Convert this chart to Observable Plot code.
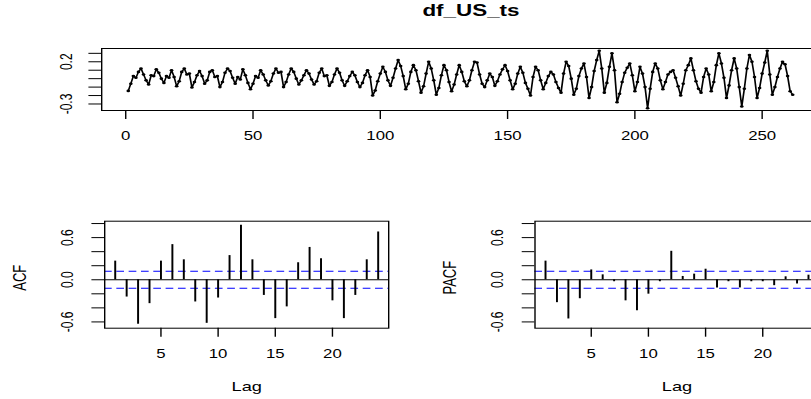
<!DOCTYPE html>
<html>
<head>
<meta charset="utf-8">
<script src="https://cdn.jsdelivr.net/npm/d3@7"></script>
<script src="https://cdn.jsdelivr.net/npm/@observablehq/plot@0.6"></script>
<style>
  html, body { margin: 0; padding: 0; background: #fff; overflow: hidden; width: 811px; height: 399px; }
  #stage { position: absolute; left: 0; top: 0; height: 399px; transform-origin: 0 0; font-family: "Liberation Sans", Arial, sans-serif; }
  #stage svg { position: absolute; overflow: visible; max-width: none !important; }
  #title { position: absolute; top: 2px; width: 200px; text-align: center; font: bold 16px "Liberation Sans", Arial, sans-serif; color: #000; }
</style>
</head>
<body>
<div id="stage"><div id="title"></div></div>
<script>
// ---------- data ----------
const seriesTitle = "df_US_ts";
const seriesValues = [
  -0.145, -0.06, 0.03, 0.01, 0.08, 0.12, 0.05, -0.02, -0.07, 0.04,
  0.03, 0.11, 0.07, 0.00, -0.05, 0.03, 0.01, 0.10, 0.02, -0.09,
  -0.03, 0.08, 0.12, 0.05, 0.06, -0.105, -0.04, 0.04, 0.09, 0.03,
  -0.06, -0.02, 0.08, 0.10, 0.02, 0.03, -0.10, -0.04, 0.07, 0.12,
  0.09, 0.01, -0.06, 0.02, -0.01, 0.11, 0.04, -0.05, -0.125, -0.06,
  0.03, 0.01, 0.10, 0.05, -0.02, -0.08, -0.03, 0.06, 0.12, 0.07,
  0.08, -0.10, -0.04, 0.05, 0.12, 0.08, 0.00, -0.07, -0.02, 0.04,
  0.10, 0.06, -0.01, -0.07, -0.03, 0.07, 0.12, 0.03, 0.04, -0.085,
  -0.04, 0.05, 0.12, 0.07, -0.02, -0.085, -0.03, 0.03, 0.08, 0.04,
  -0.04, -0.10, -0.05, 0.04, 0.10, 0.02, -0.20, -0.14, -0.03, 0.06,
  0.14, 0.08, -0.02, -0.085, 0.01, 0.12, 0.22, 0.15, 0.03, -0.125,
  -0.06, 0.08, 0.16, 0.10, -0.03, -0.166, -0.09, 0.06, 0.20, 0.12,
  -0.02, -0.19, -0.11, 0.04, 0.16, 0.10, -0.04, -0.15, -0.07, 0.05,
  0.16, 0.08, -0.03, -0.09, -0.02, 0.10, 0.20, 0.19, 0.05, -0.06,
  -0.10, -0.02, 0.06, 0.02, -0.085, -0.03, 0.05, 0.11, 0.16, 0.09,
  -0.02, -0.125, -0.06, 0.06, 0.14, 0.07, -0.05, -0.12, -0.20, 0.02,
  0.14, 0.10, -0.02, -0.125, -0.05, 0.03, 0.08, 0.05, -0.04, -0.11,
  -0.166, 0.06, 0.20, 0.15, 0.00, -0.19, -0.12, 0.03, 0.12, 0.18,
  0.02, -0.23, -0.10, 0.09, 0.22, 0.33, 0.12, -0.166, -0.05, 0.14,
  0.30, 0.10, -0.28, -0.18, -0.04, 0.07, 0.13, 0.18, 0.04, -0.15,
  -0.04, 0.14, 0.06, -0.10, -0.35, -0.12, 0.08, 0.18, 0.12, -0.02,
  -0.125, -0.04, 0.05, 0.08, 0.10, 0.01, -0.09, -0.20, -0.06, 0.10,
  0.16, 0.24, 0.10, -0.03, -0.12, -0.166, 0.02, 0.12, 0.05, -0.15,
  -0.04, 0.16, 0.30, 0.18, 0.01, -0.23, -0.08, 0.10, 0.24, 0.12,
  -0.10, -0.33, -0.12, 0.12, 0.28, 0.20, 0.02, -0.23, -0.11, 0.06,
  0.19, 0.33, 0.05, -0.19, -0.10, 0.02, 0.12, 0.20, 0.17, 0.03,
  -0.15, -0.19
];
const lags = [1,2,3,4,5,6,7,8,9,10,11,12,13,14,15,16,17,18,19,20,21,22,23,24];
const acfValues = [0.265, -0.246, -0.633, -0.34, 0.265, 0.50, 0.284, -0.316, -0.62, -0.26, 0.344, 0.777,
                   0.284, -0.223, -0.553, -0.386, 0.242, 0.46, 0.30, -0.30, -0.553, -0.223, 0.284, 0.68];
const pacfValues = [0.265, -0.326, -0.558, -0.27, 0.14, 0.07, -0.028, -0.30, -0.44, -0.205, -0.028, 0.405,
                    0.047, 0.08, 0.15, -0.116, -0.028, -0.116, -0.028, -0.028, -0.084, 0.042, -0.06, 0.065];
const topXTicks = [0, 50, 100, 150, 200, 250];
const topYTicks = [-0.3, -0.2, -0.1, 0, 0.1, 0.2, 0.3];
const topYLabels = [0.2, -0.3];
const lagTicks = [5, 10, 15, 20];
const corrYTicks = [-0.6, -0.4, -0.2, 0, 0.2, 0.4, 0.6, 0.8];
const corrYLabels = [-0.6, 0, 0.6];
const xLabel = "Lag";

// ---------- layout (reference is stretched horizontally) ----------
const S = 1.4;
const fx = v => v / S;
const stage = document.getElementById("stage");
stage.style.width = fx(811) + "px";
stage.style.transform = `scaleX(${S})`;
const title = document.getElementById("title");
title.textContent = seriesTitle;
title.style.left = (fx(471) - 100) + "px";

const fmt = d => d.toFixed(1);
const baseStyle = { background: "transparent", overflow: "visible", color: "#000",
  fontFamily: "'Liberation Sans', Arial, sans-serif", fontSize: "12px", maxWidth: "none" };

function place(svg, left, top, w, h) {
  svg.style.left = left + "px";
  svg.style.top = top + "px";
  svg.style.maxWidth = "none";
  svg.style.width = w + "px";
  svg.style.height = h + "px";
  stage.appendChild(svg);
}

// ---------- top: time series ----------
const ts = seriesValues.map((v, i) => ({ t: i + 1, v }));
const [ymin, ymax] = d3.extent(seriesValues);
const ypad = (ymax - ymin) * 0.04;
const xpad = (ts.length - 1) * 0.04;
const topW = 830;
const topChart = Plot.plot({
  width: fx(topW), height: 150,
  marginLeft: fx(101), marginRight: fx(topW - 818.6), marginTop: 48, marginBottom: 40,
  x: { domain: [1 - xpad, ts.length + xpad] },
  y: { domain: [ymin - ypad, ymax + ypad] },
  style: baseStyle,
  marks: [
    Plot.axisX({ ticks: topXTicks, tickSize: 9, tickPadding: 12, tickFormat: d => String(d), label: null }),
    Plot.axisY({ ticks: topYTicks, tickSize: 9, tickFormat: () => "", label: null }),
    Plot.text(topYLabels, { y: d => d, text: fmt, frameAnchor: "left", textAnchor: "middle", lineAnchor: "middle", dx: fx(-35), rotate: -90, fontSize: 12 }),
    Plot.line(ts, { x: "t", y: "v", stroke: "#000", strokeWidth: 1.2 }),
    Plot.dot(ts, { x: "t", y: "v", r: 1.3, fill: "#000", stroke: "none" }),
    Plot.frame({ stroke: "#000", strokeWidth: 1 })
  ]
});
place(topChart, 0, 0, fx(topW), 150);

// ---------- bottom: ACF / PACF ----------
const n = seriesValues.length;
const clim = 1.96 / Math.sqrt(n);
const allCorr = acfValues.concat(pacfValues, [clim, -clim]);
const [cmin, cmax] = d3.extent(allCorr);
const cpad = (cmax - cmin) * 0.04;
const corrDomain = [cmin - cpad, cmax + cpad];
const lpad = (lags.length - 1) * 0.04;

function corrChart(values, ylab, left, width, boxLeft, boxRight) {
  const d = lags.map((l, i) => ({ lag: l, v: values[i] }));
  const svg = Plot.plot({
    width: fx(width), height: 199,
    marginLeft: fx(boxLeft - left), marginRight: fx(left + width - boxRight),
    marginTop: 20.7, marginBottom: 71.3,
    x: { domain: [lags[0] - lpad, lags[lags.length - 1] + lpad] },
    y: { domain: corrDomain },
    style: baseStyle,
    marks: [
      Plot.ruleY([0], { stroke: "#000", strokeWidth: 1.1 }),
      Plot.ruleY([clim, -clim], { stroke: "#0000ff", strokeWidth: 1.1, strokeDasharray: "5.5,3.3" }),
      Plot.ruleX(d, { x: "lag", y1: 0, y2: "v", stroke: "#000", strokeWidth: 1.4 }),
      Plot.axisX({ ticks: lagTicks, tickSize: 9, tickPadding: 12, tickFormat: d => String(d), label: null }),
      Plot.axisY({ ticks: corrYTicks, tickSize: 9, tickFormat: () => "", label: null }),
      Plot.text(corrYLabels, { y: d => d, text: fmt, frameAnchor: "left", textAnchor: "middle", lineAnchor: "middle", dx: fx(-37), rotate: -90, fontSize: 12 }),
      Plot.text([ylab], { frameAnchor: "left", textAnchor: "middle", lineAnchor: "middle", dx: fx(-85), dy: 3, rotate: -90, fontSize: 13 }),
      Plot.text([xLabel], { frameAnchor: "bottom", textAnchor: "middle", lineAnchor: "middle", dy: 59, fontSize: 13 }),
      Plot.frame({ stroke: "#000", strokeWidth: 1 })
    ]
  });
  place(svg, fx(left), 200, fx(width), 199);
}
corrChart(acfValues, "ACF", 0, 420, 104, 388);
corrChart(pacfValues, "PACF", 420, 420, 534.3, 818.3);
</script>
</body>
</html>
